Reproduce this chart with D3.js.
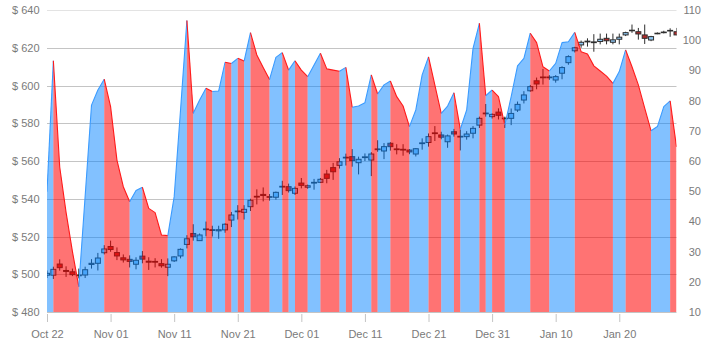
<!DOCTYPE html>
<html>
<head>
<meta charset="utf-8">
<script src="https://cdn.jsdelivr.net/npm/d3@7"></script>
<style>
  body { margin: 0; background: #fff; }
  svg { display: block; font-family: "Open Sans", "Noto Sans", sans-serif; }
</style>
</head>
<body>
<svg id="chart" width="716" height="349"></svg>
<script>
// ---------------- DATA ----------------
const startDate = "2013-10-22";

// right-axis area series (one value per day)
const areaValues = [
  49.8, 93.2, 58, 43, 30, 18.4, 48.4, 78.5, 83.5, 87.1,
  78, 60.3, 51.5, 46.5, 50.2, 51.3, 44.3, 42.9, 35.5, 35.3,
  48.2, 76.9, 106.5, 75.8, 80.2, 84.1, 83, 83.2, 92.7, 92.3,
  94, 93.1, 102.5, 95.1, 91, 87, 94.3, 95.9, 90.1, 93.2,
  90.1, 87.9, 91.8, 95.7, 90.5, 90.1, 89.7, 91, 77.8, 78.2,
  79.3, 88.5, 82.2, 85.2, 86.5, 81.3, 78.2, 71.4, 76.9, 88.5,
  94.5, 85.1, 75.8, 78.2, 82.6, 70.5, 76.9, 97.3, 105.6, 81.6,
  83.5, 81.3, 71.9, 81.3, 91.5, 94, 102.3, 99.2, 91.2, 89.8,
  92.3, 99.2, 99.5, 102.6, 96.2, 95.4, 91.5, 89.8, 88.1, 85.7,
  89.6, 96.8, 91.2, 85.2, 77.5, 70, 71.4, 78, 79.9, 64.7
];

// left-axis candlestick series
const openValues = [
  499.5, 499.5, 505.4, 502, 501.3, 499.6, 499.6, 505.2, 505.8, 511.4,
  514.7, 511.5, 508.7, 507.9, 505.3, 509.6, 506.9, 506.8, 505.6, 503.7,
  507.1, 509.7, 515.8, 521.6, 517.8, 523.6, 523.6, 523.0, 523.5, 528.7,
  533.1, 532.8, 535.8, 541.3, 542.3, 541.1, 540.8, 546.2, 546.4, 542.9,
  548.3, 546.1, 548.3, 548.7, 553.1, 556.5, 557.7, 561.6, 562.3, 559.1,
  561.8, 560.5, 566.4, 565.3, 569.4, 566.4, 566.2, 565.8, 563.7, 569.2,
  569.8, 574.9, 573.8, 570.2, 575.5, 572.7, 572.9, 574.7, 579, 585.4,
  583.5, 585.9, 582.7, 582.6, 587, 592.3, 597.2, 602.5, 604.5, 604.5,
  602.9, 606.5, 612.1, 618.4, 621.5, 623.1, 622.7, 623.3, 625, 622.9,
  624.5, 626.8, 629, 628.5, 626.8, 624.1, 627.5, 628.1, 629, 628.5
];
const highValues = [
  502, 504, 507.9, 504.2, 503, 503, 504, 508, 511.3, 515.4,
  517.8, 514.2, 510.5, 510, 509, 512.3, 509, 508.5, 508, 508.4,
  509.5, 513.7, 520.7, 526.5, 521.6, 527.9, 525.7, 525.7, 527, 533,
  536.6, 536.6, 540, 545, 546, 542.5, 543.8, 549.5, 548, 546.5,
  551, 547.5, 550.5, 551, 555.3, 559, 561.5, 563.9, 566.3, 562.3,
  564, 564.7, 571, 569.5, 570, 568.9, 568.9, 566.3, 566.8, 572,
  574.6, 578.5, 575.5, 574, 577, 576.6, 575.8, 578.5, 583.5, 590.2,
  585.2, 587.9, 583.5, 587.8, 591.5, 597, 600.3, 604.2, 608.8, 605.5,
  605.5, 610.2, 616, 620.5, 623.8, 625, 627.2, 627.5, 627.5, 627.5,
  627.5, 628.5, 632.3, 630.5, 632.3, 626.3, 628.1, 629, 630.3, 630.5
];
const lowValues = [
  498, 497.5, 501.9, 498.6, 499, 497.8, 498, 503, 502, 510.5,
  511.9, 507.5, 506.2, 503.6, 502.6, 505.8, 502.3, 503.6, 503.5, 499,
  506.5, 508.4, 513.7, 517.8, 517.8, 520.1, 520, 518.8, 522, 525,
  529, 529, 533.5, 537, 538.6, 539, 539.5, 542, 543.3, 542,
  545.5, 545.3, 544.8, 548.3, 548.2, 550, 556, 557.6, 557, 552.9,
  560, 552, 564.9, 561, 565.5, 563.5, 562.8, 563.6, 562.4, 566,
  567.6, 570.6, 571.5, 567, 572.9, 565.6, 571.3, 572, 577.5, 583.5,
  582.5, 582, 577.5, 579, 586, 590.5, 596.7, 598, 600.5, 603,
  601.5, 603.3, 611, 617.5, 620, 620.6, 617.9, 621.8, 621.8, 621.8,
  621.8, 626.2, 627.9, 624.3, 622, 623.5, 627.2, 627.6, 625.8, 626.5
];
const closeValues = [
  500.5, 502.6, 503.5, 501.5, 499.8, 499.2, 502.4, 505.8, 508.6, 513.4,
  513.1, 509.7, 507.6, 506.8, 507.4, 508, 506.4, 506.4, 504.5, 505.3,
  509.2, 513.2, 518.8, 519.9, 520.8, 524, 523.2, 523.6, 526.5, 531.4,
  533.5, 534.4, 539.2, 540.9, 541.7, 540.9, 543.4, 546.6, 544.3, 545.5,
  547.1, 546.9, 548.7, 550.3, 550.8, 554.3, 559.6, 562, 560.2, 560.9,
  562.2, 563.7, 566, 567.6, 567.6, 566, 565.8, 564.8, 566.5, 569.6,
  572.9, 574.5, 572.6, 573.3, 574.3, 573.1, 574.3, 577.3, 582.6, 585,
  584.7, 584.2, 582.4, 585.2, 590, 595, 599.4, 600.8, 604.1, 604.1,
  604.7, 609.5, 615.3, 620, 622.9, 623.5, 623.1, 624.5, 623.7, 624.2,
  625.6, 628, 629.3, 627.3, 625, 625.9, 627.7, 628.3, 629.2, 626.8
];

const priceTicks = [480, 500, 520, 540, 560, 580, 600, 620, 640];
const rightTicks = [10, 20, 30, 40, 50, 60, 70, 80, 90, 100, 110];
const dateTicks = ["2013-10-22", "2013-11-01", "2013-11-11", "2013-11-21", "2013-12-01",
                   "2013-12-11", "2013-12-21", "2013-12-31", "2014-01-10", "2014-01-20"];

// ---------------- LAYOUT ----------------
const plotLeft = 47, plotRight = 676.5, plotTop = 10, plotBottom = 312;
const svg = d3.select("#chart");

const parse = d3.utcParse("%Y-%m-%d");
const start = parse(startDate);
const dates = areaValues.map((_, i) => d3.utcDay.offset(start, i));

const x = d3.scaleUtc().domain([dates[0], dates[dates.length - 1]]).range([plotLeft, plotRight]);
const yL = d3.scaleLinear().domain([480, 640]).range([plotBottom, plotTop]);
const yR = d3.scaleLinear().domain([10, 110]).range([plotBottom, plotTop]);

const textColor = "#7a7a7a";

// clip
svg.append("defs").append("clipPath").attr("id", "plotclip")
  .append("rect").attr("x", plotLeft).attr("y", plotTop - 1)
  .attr("width", plotRight - plotLeft).attr("height", plotBottom - plotTop + 1);

// gridlines
svg.append("g").selectAll("line").data(priceTicks).join("line")
  .attr("x1", plotLeft).attr("x2", plotRight)
  .attr("y1", d => Math.round(yL(d)) + 0.5).attr("y2", d => Math.round(yL(d)) + 0.5)
  .attr("stroke", d => d === 640 ? "#e3e3e3" : "#c4c4c4")
  .attr("stroke-width", 1);

const plot = svg.append("g").attr("clip-path", "url(#plotclip)");

// candlesticks (drawn beneath the translucent area)
const candles = dates.map((d, i) => ({
  date: d, o: openValues[i], h: highValues[i], l: lowValues[i], c: closeValues[i]
}));
const cg = plot.append("g");
const bodyW = 5;
cg.selectAll("line.wick").data(candles).join("line")
  .attr("class", "wick")
  .attr("x1", d => x(d.date)).attr("x2", d => x(d.date))
  .attr("y1", d => yL(d.h)).attr("y2", d => yL(d.l))
  .attr("stroke", "#2e2e2e").attr("stroke-width", 1);
cg.selectAll("rect.body").data(candles).join("rect")
  .attr("class", "body")
  .attr("x", d => x(d.date) - bodyW / 2)
  .attr("width", bodyW)
  .attr("y", d => yL(Math.max(d.o, d.c)))
  .attr("height", d => Math.max(Math.abs(yL(d.o) - yL(d.c)), 0.6))
  .attr("fill", d => d.c >= d.o ? "#8ec8f5" : "#b32a2a")
  .attr("stroke", "#2e2e2e").attr("stroke-width", 1);

// area segments grouped into runs of the same direction
const pts = dates.map((d, i) => ({ date: d, v: areaValues[i] }));
const runs = [];
for (let i = 0; i < pts.length - 1; i++) {
  const up = pts[i + 1].v >= pts[i].v;
  const last = runs[runs.length - 1];
  if (last && last.up === up) last.points.push(pts[i + 1]);
  else runs.push({ up, points: [pts[i], pts[i + 1]] });
}
const area = d3.area().x(d => x(d.date)).y0(plotBottom).y1(d => yR(d.v));
const line = d3.line().x(d => x(d.date)).y(d => yR(d.v));

const ag = plot.append("g");
ag.selectAll("path.a").data(runs).join("path")
  .attr("class", "a")
  .attr("d", d => area(d.points))
  .attr("fill", d => d.up ? "rgba(0,128,255,0.49)" : "rgba(255,0,0,0.55)")
  .attr("stroke", "none");
ag.selectAll("path.l").data(runs).join("path")
  .attr("class", "l")
  .attr("d", d => line(d.points))
  .attr("fill", "none")
  .attr("stroke", d => d.up ? "#3a9bff" : "#ff1a1a")
  .attr("stroke-width", 1.1)
  .attr("stroke-linejoin", "round");

// left axis
const axL = svg.append("g").attr("transform", `translate(${plotLeft},0)`)
  .call(d3.axisLeft(yL).tickValues(priceTicks).tickFormat(d => "$ " + d).tickSize(0).tickPadding(7.5));
axL.select(".domain").remove();
axL.selectAll("text").attr("fill", textColor).style("font-size", "11px");

// right axis (labels right aligned)
const axR = svg.append("g").attr("transform", `translate(701,0)`)
  .call(d3.axisLeft(yR).tickValues(rightTicks).tickSize(0).tickPadding(0));
axR.select(".domain").remove();
axR.selectAll("text").attr("fill", textColor).style("font-size", "11px");

// bottom axis
const axB = svg.append("g").attr("transform", `translate(0,${plotBottom + 2})`)
  .call(d3.axisBottom(x).tickValues(dateTicks.map(parse)).tickFormat(d3.utcFormat("%b %d")).tickSize(8).tickPadding(8));
axB.select(".domain").remove();
axB.selectAll(".tick line").attr("stroke", "#c4c4c4");
axB.selectAll("text").attr("fill", textColor).style("font-size", "11px");
</script>
</body>
</html>
